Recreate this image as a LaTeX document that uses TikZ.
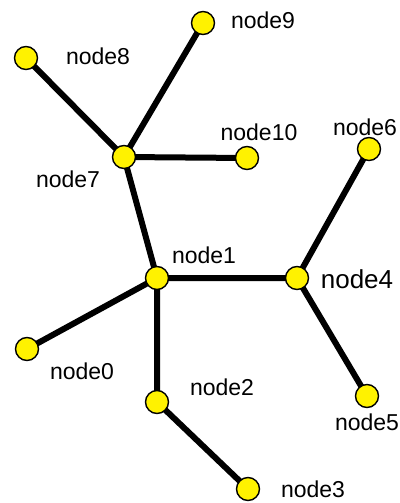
\documentclass[tikz,border=0pt]{standalone}
\usepackage{fontspec}
\setmainfont{Liberation Sans}
\usetikzlibrary{backgrounds}
\begin{document}
\begin{tikzpicture}[x=1pt,y=-1pt,
  vertex/.style={circle,draw=black,line width=1.4pt,fill=yellow,minimum size=23pt,inner sep=0pt},
  tag/.style={font=\fontsize{23}{23}\selectfont,inner sep=0pt,anchor=center},
  bigtag/.style={font=\fontsize{26}{26}\selectfont,inner sep=0pt,anchor=center},
  link/.style={draw=black,line width=6pt}]
\useasboundingbox (0,0) rectangle (399,503);
% vertices
\node[vertex] (n0) at (27,349) {};
\node[vertex] (n1) at (157,278) {};
\node[vertex] (n2) at (157,402) {};
\node[vertex] (n3) at (248,489) {};
\node[vertex] (n4) at (297,278) {};
\node[vertex] (n5) at (367,396) {};
\node[vertex] (n6) at (369,149) {};
\node[vertex] (n7) at (124,157) {};
\node[vertex] (n8) at (26,58) {};
\node[vertex] (n9) at (203,23) {};
\node[vertex] (n10) at (247,158) {};
% edges, behind the vertices
\begin{scope}[on background layer]
\path[link] (n7.center) -- (n8.center)
            (n7.center) -- (n9.center)
            (n7.center) -- (n10.center)
            (n7.center) -- (n1.center)
            (n1.center) -- (n0.center)
            (n1.center) -- (n2.center)
            (n1.center) -- (n4.center)
            (n4.center) -- (n6.center)
            (n4.center) -- (n5.center)
            (n2.center) -- (n3.center);
\end{scope}
% labels
\node[tag] (l0) at (82,371) {node0};
\node[tag] (l1) at (204,255) {node1};
\node[tag] (l2) at (222,387) {node2};
\node[tag] (l3) at (313,489) {node3};
\node[bigtag] (l4) at (357,279) {node4};
\node[tag] (l5) at (367,422) {node5};
\node[tag] (l6) at (365,127) {node6};
\node[tag] (l7) at (68,179) {node7};
\node[tag] (l8) at (98,56) {node8};
\node[tag] (l9) at (263,20) {node9};
\node[tag] (l10) at (259,132) {node10};
\end{tikzpicture}
\end{document}
